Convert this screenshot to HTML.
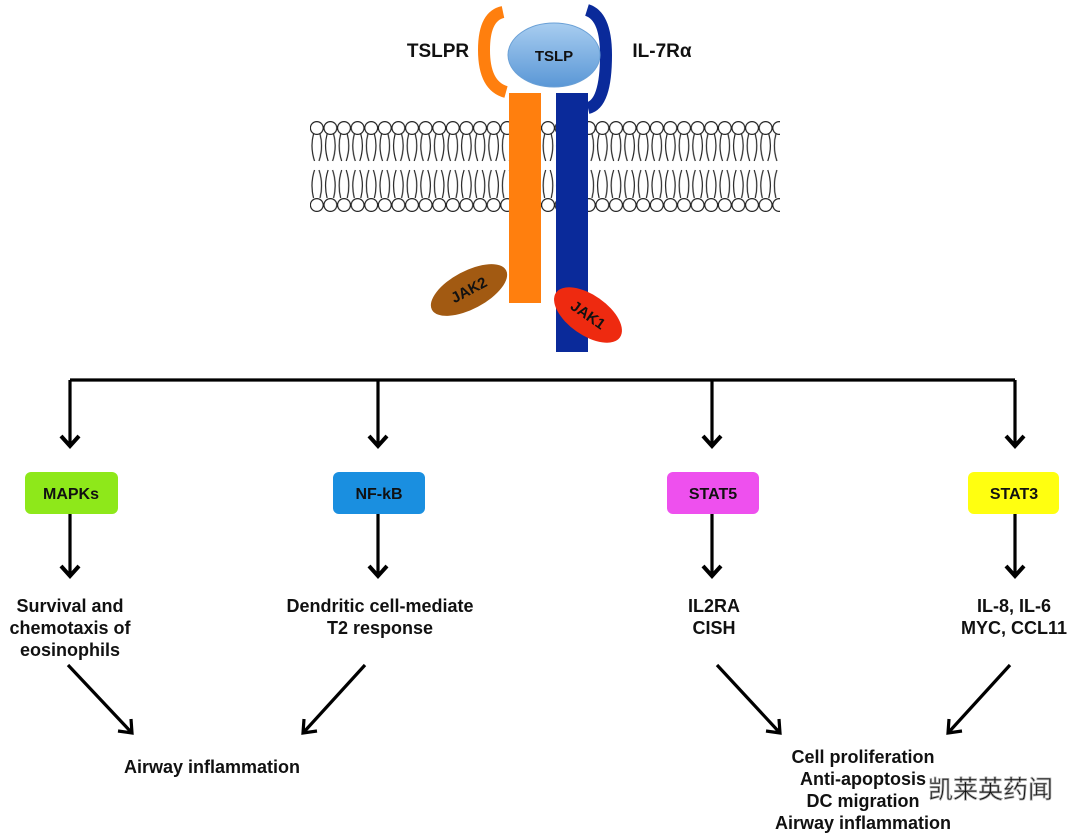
<!DOCTYPE html>
<html><head><meta charset="utf-8"><style>
html,body{margin:0;padding:0;background:#fff;}
svg{display:block;}
text{font-family:"Liberation Sans",Arial,sans-serif;font-weight:bold;fill:#111;}
</style></head><body>
<svg width="1080" height="837" viewBox="0 0 1080 837" xmlns="http://www.w3.org/2000/svg">
<defs>
<pattern id="lip" x="310" y="119" width="13.6" height="96" patternUnits="userSpaceOnUse">
<g fill="none" stroke="#222" stroke-width="1.2">
<circle cx="6.8" cy="9" r="6.4"/>
<path d="M3.5,15 Q0,28 4.5,42 M10,15 Q13.6,28 9,42"/>
<path d="M4.5,51 Q0,65 3.5,79 M9,51 Q13.6,65 10,79"/>
<circle cx="6.8" cy="86" r="6.4"/>
</g>
</pattern>
<linearGradient id="tg" x1="0" y1="0" x2="0" y2="1">
<stop offset="0" stop-color="#a8cdf0"/><stop offset="1" stop-color="#5a97d6"/>
</linearGradient>
</defs>
<rect x="310" y="119" width="470" height="96" fill="url(#lip)"/>
<path d="M503,12 Q484,16 484,50 Q484,86 506,92" fill="none" stroke="#ff7f0e" stroke-width="12"/>
<rect x="509" y="93" width="32" height="210" fill="#ff7f0e"/>
<path d="M587,10 Q606,16 606,55 Q606,104 588,108" fill="none" stroke="#0a2a9a" stroke-width="12"/>
<rect x="556" y="93" width="32" height="259" fill="#0a2a9a"/>
<ellipse cx="554" cy="55" rx="46" ry="32" fill="url(#tg)" stroke="#6aa0d6" stroke-width="1"/>
<text x="554" y="61" font-size="15" text-anchor="middle">TSLP</text>
<text x="438" y="57" font-size="19" text-anchor="middle">TSLPR</text>
<text x="662" y="57" font-size="19" text-anchor="middle">IL-7Rα</text>
<g transform="translate(469,290) rotate(-28)">
<ellipse rx="42" ry="19" fill="#a25a12"/>
<text y="5" font-size="15" text-anchor="middle">JAK2</text></g>
<g transform="translate(588,315) rotate(35)">
<ellipse rx="39" ry="20" fill="#ee2a10"/>
<text y="5" font-size="15" text-anchor="middle">JAK1</text></g>
<g stroke="#000" stroke-width="3.2" fill="none">
<path d="M70,380 H1015"/>
<path d="M70,380 V446 M378,380 V446 M712,380 V446 M1015,380 V446"/>
<path d="M70,513 V576 M378,513 V576 M712,513 V576 M1015,513 V576"/>
<path d="M61,436 L70,446 L79,436 M369,436 L378,446 L387,436 M703,436 L712,446 L721,436 M1006,436 L1015,446 L1024,436" stroke-width="4"/>
<path d="M61,566 L70,576 L79,566 M369,566 L378,576 L387,566 M703,566 L712,576 L721,566 M1006,566 L1015,576 L1024,566" stroke-width="4"/>
<path d="M68,665 L132,733 M118,731 L132,733 L131,719"/>
<path d="M365,665 L303,733 M304,719 L303,733 L317,731"/>
<path d="M717,665 L780,733 M766,731 L780,733 L779,719"/>
<path d="M1010,665 L948,733 M949,719 L948,733 L962,731"/>
</g>
<rect x="25" y="472" width="93" height="42" rx="6" fill="#8ee81a"/>
<text x="71" y="499" font-size="16" text-anchor="middle">MAPKs</text>
<rect x="333" y="472" width="92" height="42" rx="6" fill="#1a8fe0"/>
<text x="379" y="499" font-size="16" text-anchor="middle">NF-kB</text>
<rect x="667" y="472" width="92" height="42" rx="6" fill="#ee50ee"/>
<text x="713" y="499" font-size="16" text-anchor="middle">STAT5</text>
<rect x="968" y="472" width="91" height="42" rx="6" fill="#ffff10"/>
<text x="1014" y="499" font-size="16" text-anchor="middle">STAT3</text>
<g font-size="18" text-anchor="middle">
<text x="70" y="612">Survival and</text>
<text x="70" y="634">chemotaxis of</text>
<text x="70" y="656">eosinophils</text>
<text x="380" y="612">Dendritic cell-mediate</text>
<text x="380" y="634">T2 response</text>
<text x="714" y="612">IL2RA</text>
<text x="714" y="634">CISH</text>
<text x="1014" y="612">IL-8, IL-6</text>
<text x="1014" y="634">MYC, CCL11</text>
<text x="212" y="773">Airway inflammation</text>
<text x="863" y="763">Cell proliferation</text>
<text x="863" y="785">Anti-apoptosis</text>
<text x="863" y="807">DC migration</text>
<text x="863" y="829">Airway inflammation</text>
</g>
<text x="928" y="798" font-size="25" style="font-weight:normal;font-family:'Liberation Sans','Noto Sans CJK SC',sans-serif" fill="#f4f4f4" stroke="#aaa" stroke-width="0.8">凯莱英药闻</text>
</svg>
</body></html>
